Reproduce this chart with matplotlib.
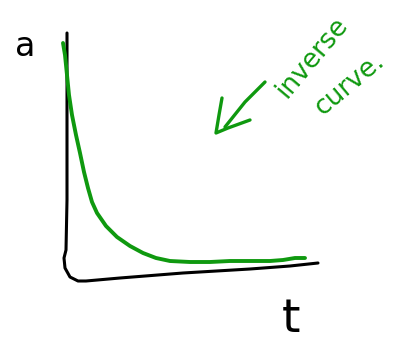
import numpy as np
import matplotlib.pyplot as plt

# sketch drawn in pixel units (origin top-left)
axis_x = [67, 67, 67, 66, 64, 65, 70, 78, 86, 120, 183, 250, 290, 318]
axis_y = [33, 120, 200, 250, 258, 268, 277, 281, 281, 278, 273, 269, 266, 263]

curve_x = [63, 65, 67, 69, 72, 76, 80, 84, 88, 92, 97, 106, 117, 130, 143, 156, 170, 190, 210, 230, 250, 270, 283, 295, 305]
curve_y = [43, 55, 75, 95, 115, 135, 153, 172, 188, 202, 213, 226, 237, 246, 253, 258, 261, 262, 262, 261, 261, 261, 260, 258, 258]

arrow_x = [265, 245, 225]
arrow_y = [82, 102, 127]
head_x = [222, 219, 216, 228, 250]
head_y = [98, 115, 133, 128, 120]

green = '#0f990f'

fig = plt.figure(figsize=(3.97, 3.44), dpi=100)
ax = fig.add_axes([0, 0, 1, 1])
ax.set_xlim(0, 397)
ax.set_ylim(344, 0)
ax.axis('off')

ax.plot(axis_x, axis_y, color='black', lw=2.2, solid_capstyle='round')
ax.plot(curve_x, curve_y, color=green, lw=2.8, solid_capstyle='round')
ax.plot(arrow_x, arrow_y, color=green, lw=2.4, solid_capstyle='round')
ax.plot(head_x, head_y, color=green, lw=2.4, solid_capstyle='round')

ax.text(25, 47, 'a', fontsize=24, ha='center', va='center', color='black')
ax.text(291, 320, 't', fontsize=34, ha='center', va='center', color='black')
ax.text(312, 57, 'inverse', fontsize=19, rotation=50, ha='center', va='center',
        color=green, rotation_mode='anchor')
ax.text(350, 84, 'curve.', fontsize=19, rotation=40, ha='center', va='center',
        color=green, rotation_mode='anchor')

fig.savefig('out.png', dpi=100)
